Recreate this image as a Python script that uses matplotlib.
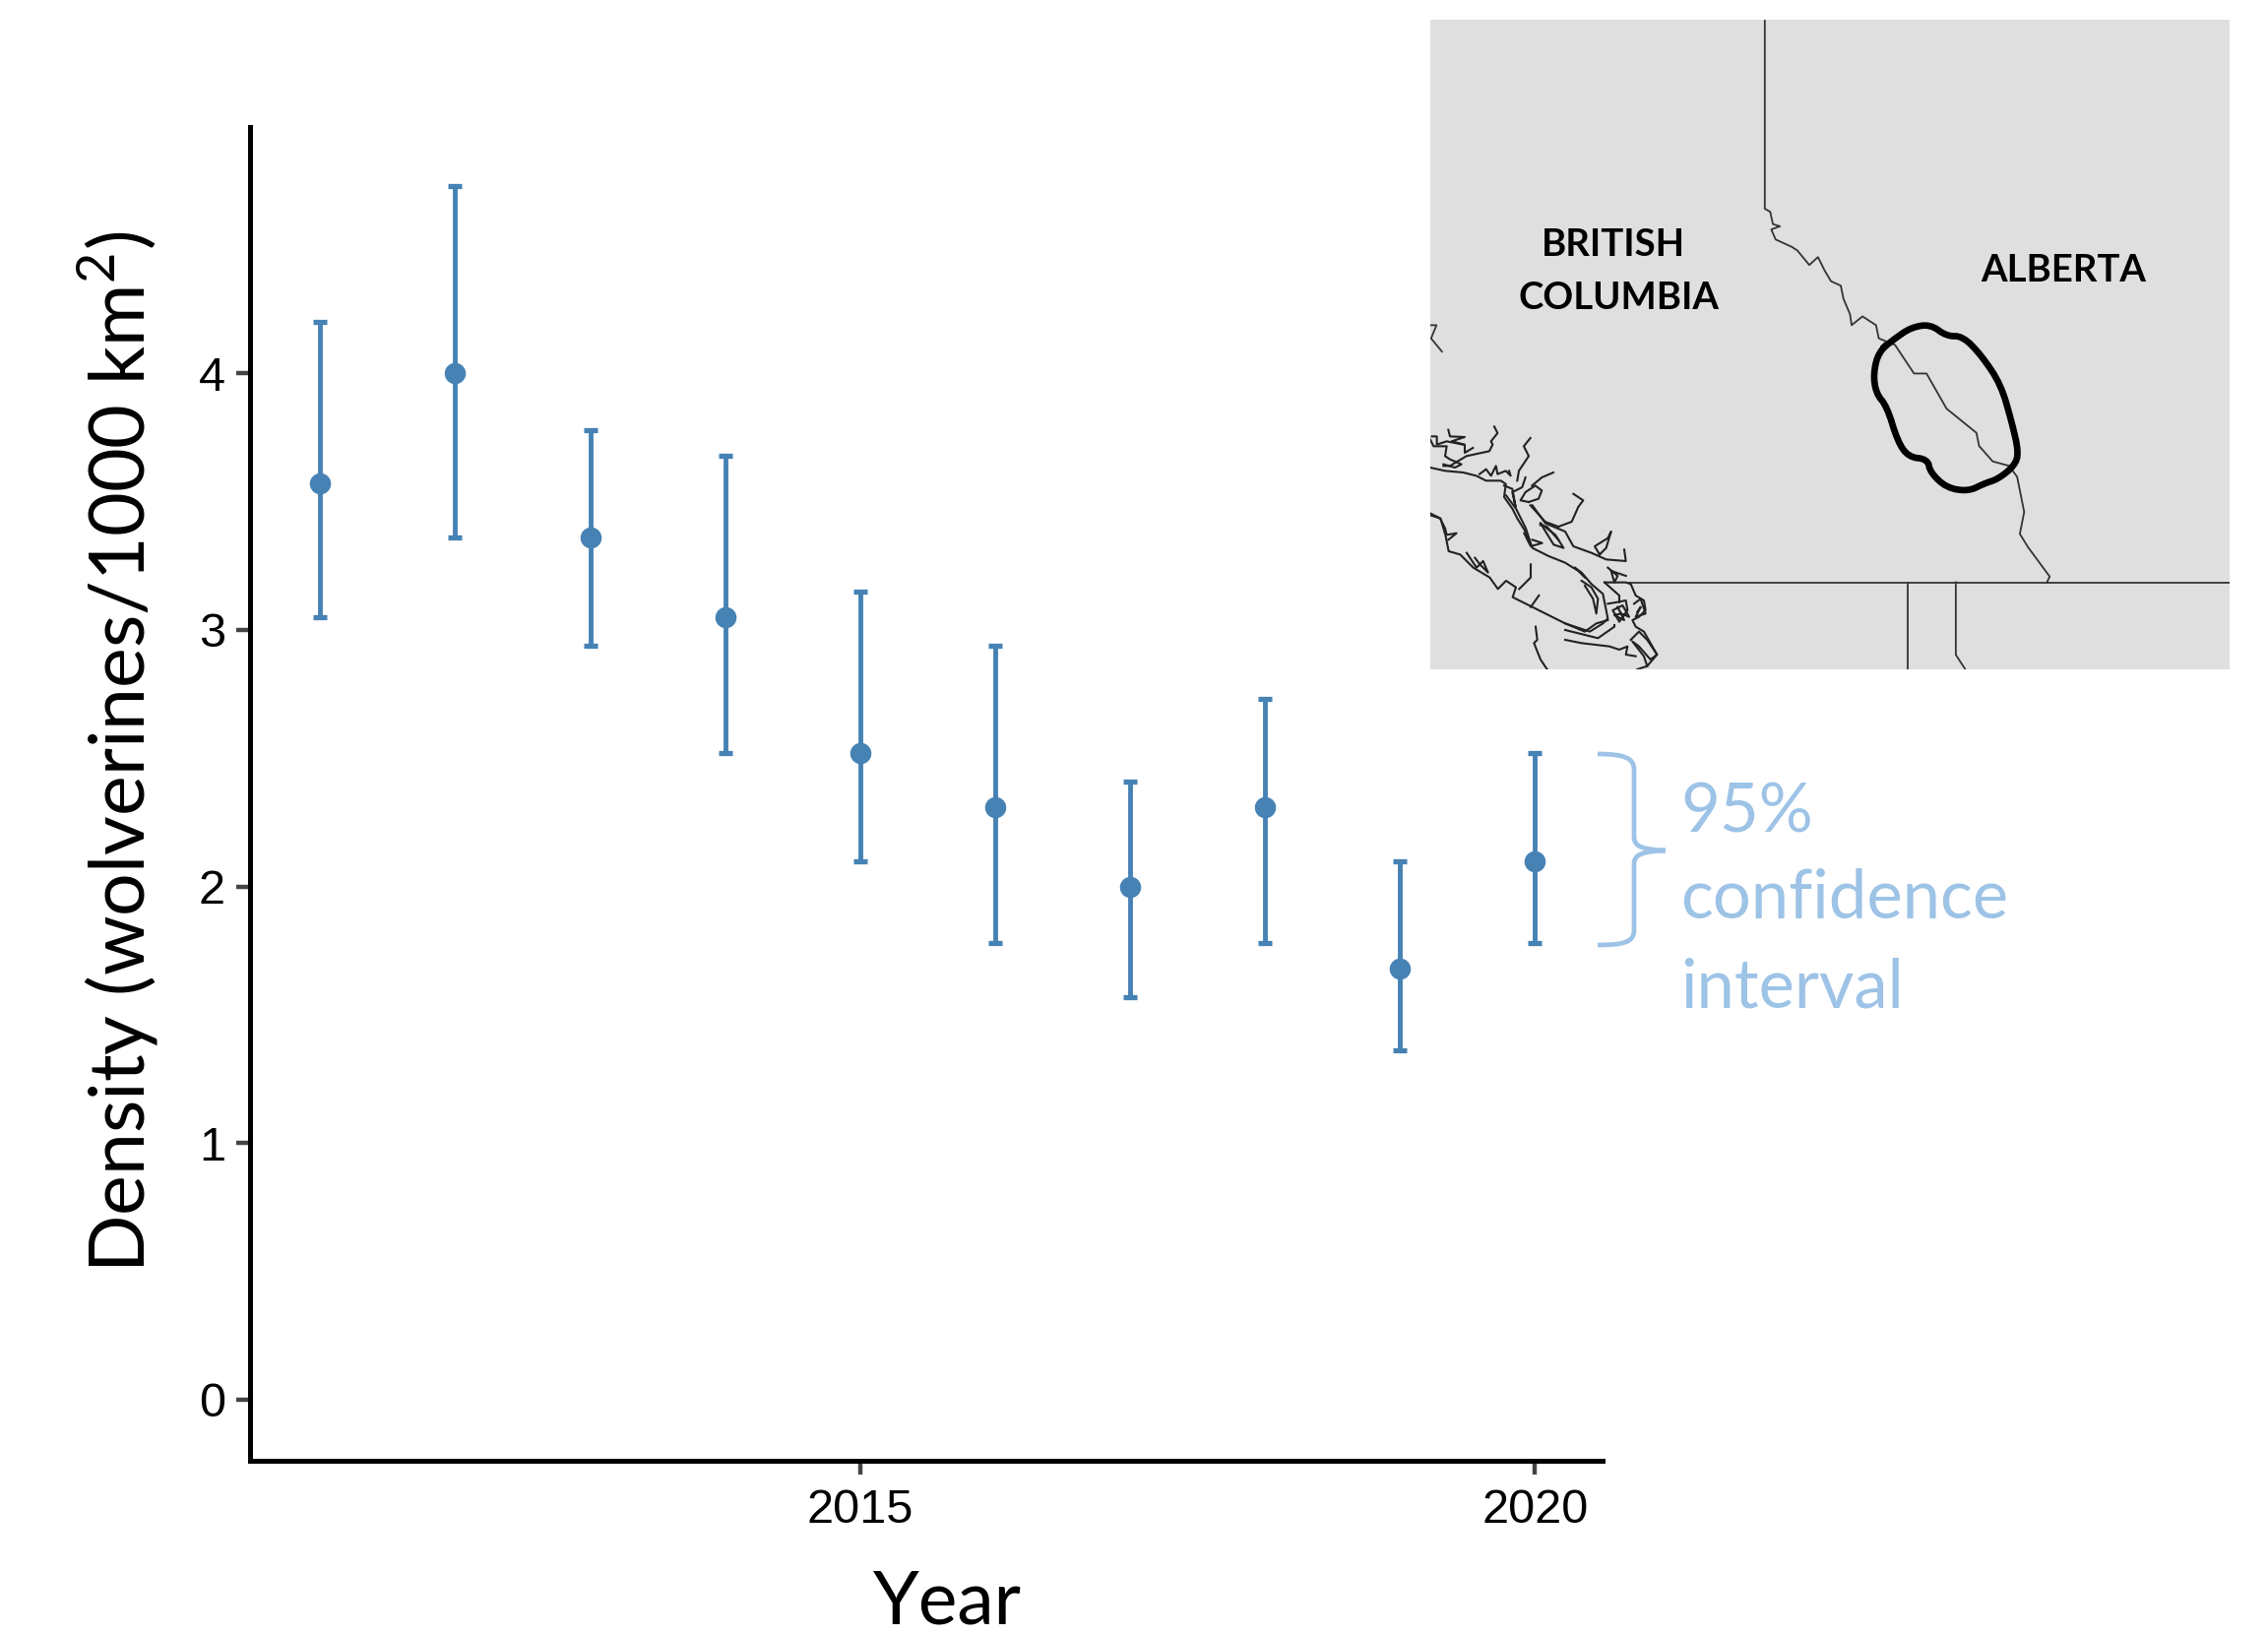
import numpy as np
import matplotlib
matplotlib.use("Agg")
import matplotlib.pyplot as plt
from matplotlib.path import Path
from matplotlib.patches import PathPatch

W, H = 2304, 1661

years = [2011, 2012, 2013, 2014, 2015, 2016, 2017, 2018, 2019, 2020]
density = [3.57, 4.0, 3.36, 3.05, 2.52, 2.31, 2.0, 2.31, 1.68, 2.1]
lower = [3.05, 3.36, 2.94, 2.52, 2.1, 1.78, 1.57, 1.78, 1.36, 1.78]
upper = [4.2, 4.73, 3.78, 3.68, 3.15, 2.94, 2.41, 2.73, 2.1, 2.52]
x_ticks = [2015, 2020]
y_ticks = [0, 1, 2, 3, 4]

# map outlines, traced by eye from crops of the inset
river = [(640,47),(640,475),(650,482),(655,510),(668,515),(652,522),(660,545),(690,562),(700,570),
         (722,603),(738,585),(750,615),(762,640),(780,650),(785,680),(797,715),(800,740),(820,720),
         (845,740),(850,770),(880,785),(915,850),(938,850),(975,930),(1030,985),(1035,1015),
         (1060,1050),(1090,1060),(1105,1085),(1118,1165),(1110,1215),(1125,1245),(1165,1312),(1160,1325)]
study_area = [(850,800),(880,770),(910,745),(945,738),(975,765),(1005,765),(1040,810),(1075,875),
              (1095,960),(1108,1030),(1100,1060),(1070,1090),(1045,1100),(1015,1118),(975,1110),
              (945,1075),(940,1045),(905,1040),(885,1005),(865,925),(845,895),(840,850),(850,800)]
borders = [[(390,1325),(1497,1325)], [(904,1325),(904,1524)],
           [(992,1325),(992,1490),(1010,1524)], [(23,740),(35,740),(25,770),(45,800)]]
coast_mid = [
    [(270,310),(300,350),(330,410),(350,470),(400,495),(450,515),(490,540),(510,560)],
    [(40,365),(70,380),(85,430),(95,480),(130,490),(170,530),(220,560),(245,595),(270,570),(300,590),
     (290,620),(350,650),(400,675),(450,700),(510,725),(545,700),(580,690)],
    [(350,340),(390,395),(450,420),(475,465),(530,485),(575,505),(635,510),(630,475)],
    [(360,710),(365,750),(355,760),(375,810),(395,840)],
    [(375,395),(420,430),(445,470),(415,460),(375,395)],
    [(430,405),(470,390),(490,345),(505,325),(475,305)],
    [(555,490),(540,465),(580,440),(590,420),(575,470),(555,490)],
    [(150,485),(180,530),(200,510),(215,545),(190,520),(175,500)],
    [(310,595),(345,560),(345,520)], [(345,650),(370,615)],
    [(325,425),(345,465),(380,455),(350,445)],
]
coast_north = [
    [(0,165),(45,175),(100,180),(140,190),(170,205),(215,205),(230,215),(225,255),(250,290),(265,320),(290,360),(300,390)],
    [(40,160),(60,160),(110,130),(180,115),(190,95),(185,85),(205,60),(195,40)],
    [(55,50),(60,70),(105,72),(65,85),(105,95),(105,120),(130,105)],
    [(5,70),(20,70),(20,95),(50,85),(100,95)],
    [(0,80),(10,100),(50,100),(45,130),(60,140),(95,155),(75,165),(40,155)],
    [(150,185),(170,170),(185,190),(200,160),(205,185),(230,175),(245,190),(240,175)],
    [(265,205),(270,175),(300,130),(285,100),(305,75)],
    [(310,220),(340,195),(375,180)],
    [(225,220),(250,230),(260,285),(250,240),(280,225),(290,195)],
    [(300,270),(330,260),(340,235),(320,220),(290,240),(275,265),(300,270)],
    [(305,280),(350,330),(390,345)],
    [(335,340),(355,345),(390,385)],
    [(0,310),(30,320),(45,350),(50,370),(80,365),(55,385)],
]
coast_south = [
    [(120,65),(185,65),(200,70),(215,105),(240,120),(245,150),(225,170),(205,180),(215,200),(240,215),(280,285),(250,320),(220,330)],
    [(120,65),(165,105),(165,125)],
    [(30,20),(50,35),(80,70),(115,100),(125,150),(130,175),(115,190),(75,215),(45,205),(0,190)],
    [(50,60),(80,80),(100,115),(95,160),(85,115),(60,75)],
    [(0,210),(100,235),(150,200),(150,195)],
    [(0,240),(50,250),(135,260),(165,270),(190,260),(185,285),(215,290)],
    [(130,130),(160,125),(185,120),(190,150),(165,185),(145,150),(175,135),(195,170),(170,160),(150,165),(180,180),(160,140)],
    [(210,130),(230,115),(245,160),(215,170),(230,140),(220,155)],
    [(200,240),(225,215),(250,240),(280,285),(260,300),(225,260),(205,245),(240,290),(250,320)],
    [(130,20),(160,45),(150,65),(140,30),(185,45)],
]

plt.rcParams["font.family"] = ["Liberation Sans"]
plt.rcParams["mathtext.fontset"] = "custom"
plt.rcParams["mathtext.rm"] = "Lato"

fig = plt.figure(figsize=(W / 100, H / 100), dpi=100, facecolor="white")

# main axes
left, right, top, bottom = 254, 1628, 129, 1484
ax = fig.add_axes([left / W, 1 - bottom / H, (right - left) / W, (bottom - top) / H])
blue = "#4682B4"
err = [np.array(density) - np.array(lower), np.array(upper) - np.array(density)]
ax.errorbar(years, density, yerr=err, fmt="none", ecolor=blue, elinewidth=3.5, capsize=5.2, capthick=3.8)
ax.plot(years, density, "o", color=blue, ms=15.5, mew=0)
ax.set_xlim(2010.48, 2020.5)
ax.set_ylim(-0.238, 4.96)
ax.set_xticks(x_ticks)
ax.set_yticks(y_ticks)
ax.tick_params(labelsize=35, length=10, width=3.2, color="#444444", labelcolor="black")
ax.tick_params(axis="x", pad=10)
ax.tick_params(axis="y", pad=8)
ax.spines[["top", "right"]].set_visible(False)
ax.spines[["left", "bottom"]].set_linewidth(3.6)

# overlay in pixel coordinates for annotation
ov = fig.add_axes([0, 0, 1, 1], facecolor="none")
ov.set_xlim(0, W)
ov.set_ylim(H, 0)
ov.axis("off")
ov.text(120, 764, r"Density (wolverines/1000 km$^{\mathrm{2}}$)", rotation=90, ha="center", va="center",
        fontsize=55.5, family="Lato", color="black")
ov.text(962, 1628, "Year", ha="center", va="center", fontsize=54, family="Lato", color="black")

light = "#9DC3E6"
brace = Path([(1623,766),(1650,766),(1660,770),(1660,782),(1660,850),(1660,860),(1668,863),(1692,864),
              (1668,865),(1660,868),(1660,878),(1660,945),(1660,957),(1650,960),(1623,960)],
             [1,4,4,4,2,4,4,4,4,4,4,2,4,4,4])
ov.add_patch(PathPatch(brace, fc="none", ec=light, lw=3.4))
for label, base in zip(["95%", "confidence", "interval"], [845, 933, 1023]):
    ov.text(1707, base, label, ha="left", va="baseline", fontsize=49.5, family="Lato", color=light)

# map inset
mx0, mx1, my0, my1 = 1453, 2265, 20, 680
mp = fig.add_axes([mx0 / W, 1 - my1 / H, (mx1 - mx0) / W, (my1 - my0) / H], facecolor="#DFDFDF")
mp.set_xlim(mx0, mx1)
mp.set_ylim(my1, my0)
mp.set_xticks([])
mp.set_yticks([])
mp.spines[:].set_visible(False)

def from_zoom1(pts):
    a = np.array(pts, float)
    return 1440 + a[:, 0] / 1.814, a[:, 1] / 2.24

def from_crop(pts, x0, y0):
    a = np.array(pts, float)
    return x0 + a[:, 0] / 3, y0 + a[:, 1] / 3

#corner cutting so the hand traced outline is not so angular
def smooth_closed(x, y, n=2):
    for i in range(n):
        x2 = np.column_stack([0.75 * x[:-1] + 0.25 * x[1:], 0.25 * x[:-1] + 0.75 * x[1:]]).ravel()
        y2 = np.column_stack([0.75 * y[:-1] + 0.25 * y[1:], 0.25 * y[:-1] + 0.75 * y[1:]]).ravel()
        x, y = np.append(x2, x2[0]), np.append(y2, y2[0])
    return x, y

mp.plot(*from_zoom1(river), color="#333333", lw=1.3)
for b in borders:
    mp.plot(*from_zoom1(b), color="#333333", lw=1.3)
for c in coast_mid:
    mp.plot(*from_crop(c, 1440, 400), color="#222222", lw=1.5)
for c in coast_north:
    mp.plot(*from_crop(c, 1453, 420), color="#222222", lw=1.5)
for c in coast_south:
    mp.plot(*from_crop(c, 1590, 570), color="#222222", lw=1.5)
mp.plot(*smooth_closed(*from_zoom1(study_area)), color="black", lw=4.8, solid_joinstyle="round")
mp.text(1639, 249, "BRITISH", ha="center", va="center", fontsize=27.5, family="Lato", weight="bold")
mp.text(1644, 303, "COLUMBIA", ha="center", va="center", fontsize=27.5, family="Lato", weight="bold")
mp.text(2096, 275, "ALBERTA", ha="center", va="center", fontsize=27.5, family="Lato", weight="bold")

fig.savefig("out.png", dpi=100)
